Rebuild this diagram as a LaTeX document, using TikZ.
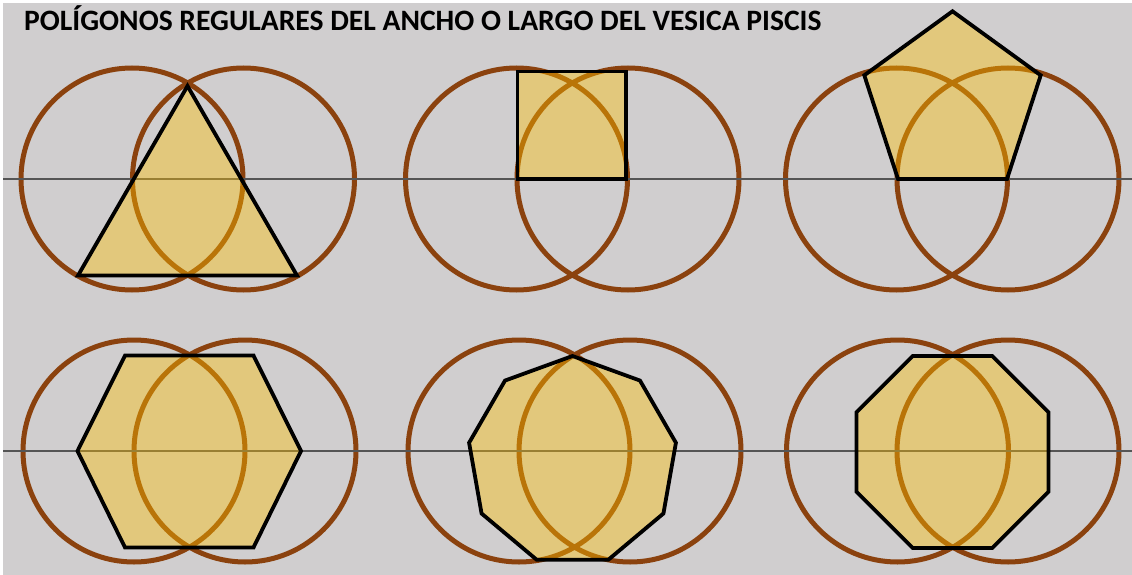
\documentclass[tikz,border=0pt]{standalone}
\usepackage{fontspec}
\setmainfont{Carlito}
\definecolor{bg}{RGB}{208,206,207}
\definecolor{ring}{RGB}{139,66,14}
\definecolor{gold}{RGB}{255,192,0}
\definecolor{axiscol}{RGB}{85,85,85}
\begin{document}
\begin{tikzpicture}[x=1pt,y=-1pt,
  ringstyle/.style={draw=ring,line width=5pt},
  polystyle/.style={fill=gold,fill opacity=0.4,draw=black,line width=3.8pt,line join=miter},
  axisstyle/.style={draw=axiscol,line width=1.5pt}]
\useasboundingbox (0,0) rectangle (1132,575);
\fill[white] (0,0) rectangle (1132,575);
\fill[bg] (3,3) rectangle (1132,575);
\node[anchor=base west,inner sep=0,font=\bfseries\fontsize{29.6}{32}\selectfont] (title) at (24,30.5) {POLÍGONOS REGULARES DEL ANCHO O LARGO DEL VESICA PISCIS};
% circles top row
\foreach \cx in {132,243.5,516.5,628,896.5,1008}{\draw[ringstyle] (\cx,179) circle[radius=111];}
% circles bottom row
\foreach \cx in {134,245,519,630,897.5,1008}{\draw[ringstyle] (\cx,451) circle[radius=111];}
% axes
\draw[axisstyle] (3,179) -- (1132,179);
\draw[axisstyle] (3,451) -- (1132,451);
% triangle
\draw[polystyle] (187.5,86) -- (297,275.5) -- (78,275.5) -- cycle;
% square
\draw[polystyle] (517.5,179) rectangle (626,71.5);
% pentagon
\draw[polystyle] (898,179) -- (1007,179) -- (1040.7,75.3) -- (952.5,11.3) -- (864.3,75.3) -- cycle;
% hexagon
\draw[polystyle] (77.5,451) -- (125,355.5) -- (253.5,355.5) -- (301,451) -- (253.5,547.5) -- (125,547.5) -- cycle;
% nonagon
\draw[polystyle] (572.5,{461-105}) \foreach \k in {1,...,8}{ -- ({572.5+105*cos(90+40*\k)},{461-105*sin(90+40*\k)}) } -- cycle;
% octagon
\draw[polystyle] ({952.5+103.9*cos(22.5)},{452-103.9*sin(22.5)}) \foreach \k in {1,...,7}{ -- ({952.5+103.9*cos(22.5+45*\k)},{452-103.9*sin(22.5+45*\k)}) } -- cycle;
\end{tikzpicture}
\end{document}
